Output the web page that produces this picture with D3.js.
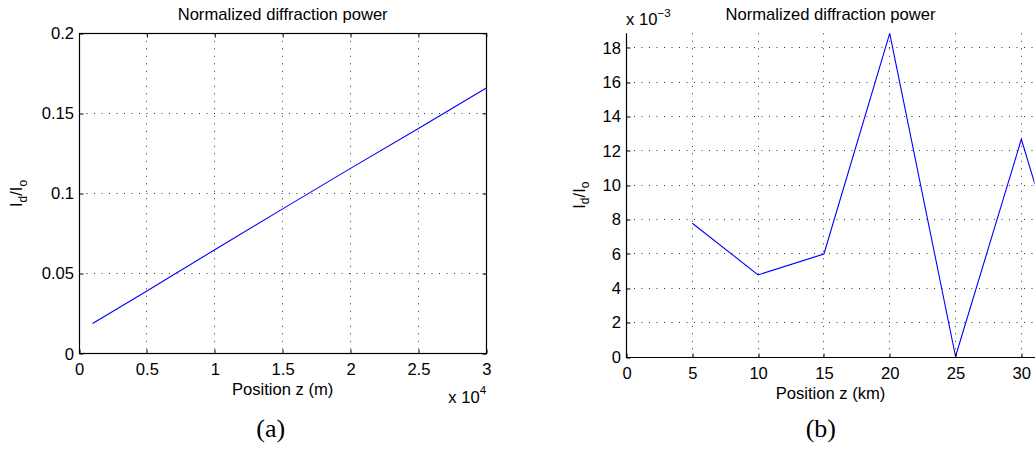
<!DOCTYPE html>
<html>
<head>
<meta charset="utf-8">
<script src="https://cdn.jsdelivr.net/npm/d3@7"></script>
<style>
  html, body { margin: 0; padding: 0; background: #fff; }
  svg { display: block; }
  text { font-family: "Liberation Sans", Arial, sans-serif; fill: #000; }
</style>
</head>
<body>
<svg id="chart" width="1035" height="451"></svg>
<script>
// ---------- Data ----------
// Panel (a): position in metres, normalized power
const positionA = [1000, 5000, 10000, 15000, 20000, 25000, 30000];
const powerA    = [0.0188, 0.0391, 0.0649, 0.0904, 0.1157, 0.1406, 0.1659];
const xTicksA   = [0, 5000, 10000, 15000, 20000, 25000, 30000];
const xTickLabelsA = ["0", "0.5", "1", "1.5", "2", "2.5", "3"];
const yTicksA   = [0, 0.05, 0.1, 0.15, 0.2];
const yTickLabelsA = ["0", "0.05", "0.1", "0.15", "0.2"];

// Panel (b): position in km, normalized power
const positionB = [5, 10, 15, 20, 25, 30, 35];
const powerB    = [0.00779, 0.00478, 0.00600, 0.01885, 0.00003, 0.01268, 0.0];
const xTicksB   = [0, 5, 10, 15, 20, 25, 30];
const xTickLabelsB = ["0", "5", "10", "15", "20", "25", "30"];
const yTicksB   = [0, 0.002, 0.004, 0.006, 0.008, 0.010, 0.012, 0.014, 0.016, 0.018];
const yTickLabelsB = ["0", "2", "4", "6", "8", "10", "12", "14", "16", "18"];

const titleText = "Normalized diffraction power";

// ---------- Drawing ----------
const svg = d3.select("#chart");
const FS = 16.6;

function crisp(v) { return Math.round(v - 0.5) + 0.5; }

function drawPanel(cfg) {
  const x = d3.scaleLinear().domain(cfg.xDomain).range([cfg.left, cfg.right]);
  const y = d3.scaleLinear().domain(cfg.yDomain).range([cfg.bottom, cfg.top]);
  const g = svg.append("g");

  // clip
  const clipId = "clip" + cfg.id;
  svg.append("defs").append("clipPath").attr("id", clipId)
    .append("rect")
    .attr("x", cfg.left).attr("y", cfg.top)
    .attr("width", cfg.right - cfg.left).attr("height", cfg.bottom - cfg.top);

  // grid
  const grid = g.append("g").attr("stroke", "#000").attr("stroke-width", 1)
    .attr("stroke-dasharray", "1,6.5").attr("opacity", 0.8);
  grid.selectAll("line.vx").data(cfg.xTicks).join("line")
    .attr("x1", d => crisp(x(d))).attr("x2", d => crisp(x(d)))
    .attr("y1", cfg.top).attr("y2", cfg.bottom);
  grid.selectAll("line.hy").data(cfg.yTicks).join("line")
    .attr("y1", d => crisp(y(d))).attr("y2", d => crisp(y(d)))
    .attr("x1", cfg.left).attr("x2", cfg.right);

  // data line
  const line = d3.line().x(d => x(d[0])).y(d => y(d[1]));
  g.append("path")
    .datum(d3.zip(cfg.xs, cfg.ys))
    .attr("clip-path", `url(#${clipId})`)
    .attr("fill", "none").attr("stroke", "#0000ff").attr("stroke-width", 1.1)
    .attr("d", line);

  // axes
  const xAxis = d3.axisBottom(x).tickValues(cfg.xTicks)
    .tickFormat((d, i) => cfg.xLabels[i]).tickSize(-4).tickPadding(10);
  const yAxis = d3.axisLeft(y).tickValues(cfg.yTicks)
    .tickFormat((d, i) => cfg.yLabels[i]).tickSize(-4).tickPadding(5.5);

  const gx = g.append("g").attr("transform", `translate(0,${crisp(cfg.bottom)})`).call(xAxis);
  const gy = g.append("g").attr("transform", `translate(${crisp(cfg.left)},0)`).call(yAxis);
  [gx, gy].forEach(a => {
    a.attr("font-family", null).attr("font-size", null);
    a.select(".domain").remove();
    a.selectAll(".tick line").attr("stroke", "#000");
    a.selectAll(".tick text").style("font-size", FS + "px");
  });
  gx.selectAll(".tick line").attr("transform", d => `translate(${crisp(x(d)) - x(d)},0)`);
  gy.selectAll(".tick line").attr("transform", d => `translate(0,${crisp(y(d)) - y(d)})`);

  if (cfg.box) {
    // ticks on top and right
    const gxt = g.append("g").attr("transform", `translate(0,${crisp(cfg.top)})`)
      .call(d3.axisTop(x).tickValues(cfg.xTicks).tickFormat("").tickSize(-4));
    const gyr = g.append("g").attr("transform", `translate(${crisp(cfg.right)},0)`)
      .call(d3.axisRight(y).tickValues(cfg.yTicks).tickFormat("").tickSize(-4));
    [gxt, gyr].forEach(a => { a.select(".domain").remove(); a.selectAll(".tick line").attr("stroke", "#000"); });
    g.append("rect")
      .attr("x", crisp(cfg.left)).attr("y", crisp(cfg.top))
      .attr("width", crisp(cfg.right) - crisp(cfg.left))
      .attr("height", crisp(cfg.bottom) - crisp(cfg.top))
      .attr("fill", "none").attr("stroke", "#000").attr("stroke-width", 1.2);
  } else {
    g.append("path")
      .attr("d", `M${crisp(cfg.left)},${crisp(cfg.top)}V${crisp(cfg.bottom)}H${cfg.right + 2}`)
      .attr("fill", "none").attr("stroke", "#000").attr("stroke-width", 1.2);
  }

  const cx = (cfg.left + cfg.right) / 2;
  // title
  g.append("text").attr("x", cx).attr("y", 19.5).attr("text-anchor", "middle")
    .style("font-size", FS + "px").text(titleText);
  // x label
  g.append("text").attr("x", cx).attr("y", cfg.xLabelY).attr("text-anchor", "middle")
    .style("font-size", FS + "px").text(cfg.xLabel);
  // y label I_d/I_o
  const yl = g.append("text")
    .attr("transform", `translate(${cfg.yLabelX},${(cfg.top + cfg.bottom) / 2}) rotate(-90)`)
    .attr("text-anchor", "middle").style("font-size", FS + "px");
  yl.append("tspan").text("I");
  yl.append("tspan").attr("dy", 4.5).style("font-size", "12px").text("d");
  yl.append("tspan").attr("dy", -4.5).text("/I");
  yl.append("tspan").attr("dy", 4.5).style("font-size", "12px").text("o");

  // exponent label
  if (cfg.expo) {
    const e = g.append("text").attr("x", cfg.expo.x).attr("y", cfg.expo.y)
      .style("font-size", FS + "px");
    e.append("tspan").text("x 10");
    e.append("tspan").attr("dy", -8.5).style("font-size", "11.6px").text(cfg.expo.power);
  }

  // caption
  g.append("text").attr("x", cfg.captionX).attr("y", 437).attr("text-anchor", "middle")
    .style("font-family", "'Liberation Serif', 'DejaVu Serif', serif")
    .style("font-size", "26px").text(cfg.caption);
}

drawPanel({
  id: "a", xs: positionA, ys: powerA,
  xDomain: [0, 30000], yDomain: [0, 0.2],
  left: 79, right: 486.3, top: 33.3, bottom: 353.7,
  xTicks: xTicksA, xLabels: xTickLabelsA, yTicks: yTicksA, yLabels: yTickLabelsA,
  box: true, xLabel: "Position z (m)", xLabelY: 395, yLabelX: 22,
  expo: { x: 448.3, y: 402.7, power: "4" },
  caption: "(a)", captionX: 270.7
});

drawPanel({
  id: "b", xs: positionB, ys: powerB,
  xDomain: [0, 31], yDomain: [0, 0.01885],
  left: 626.5, right: 1034.5, top: 33.3, bottom: 357,
  xTicks: xTicksB, xLabels: xTickLabelsB, yTicks: yTicksB, yLabels: yTickLabelsB,
  box: false, xLabel: "Position z (km)", xLabelY: 399.3, yLabelX: 584.5,
  expo: { x: 626, y: 25, power: "\u22123" },
  caption: "(b)", captionX: 820.8
});
</script>
</body>
</html>
